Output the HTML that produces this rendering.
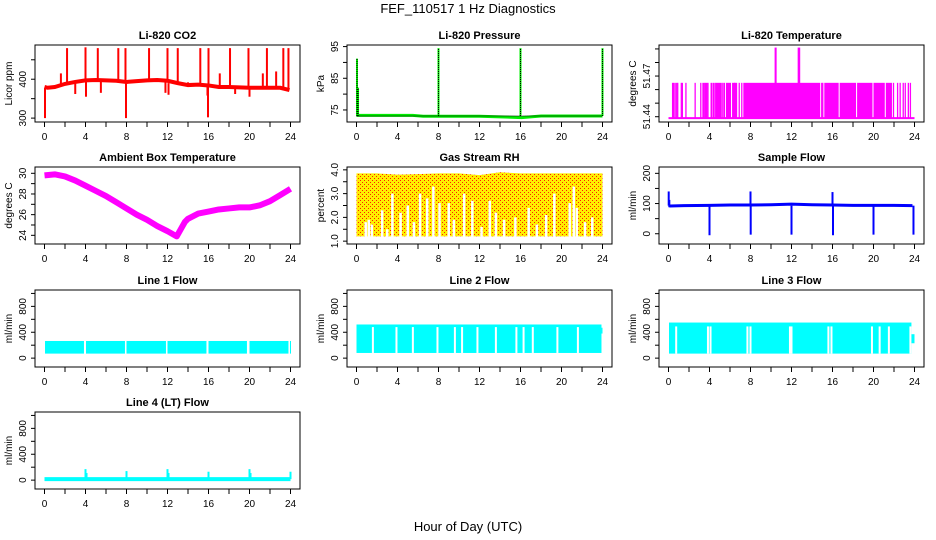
<!DOCTYPE html>
<html><head><meta charset="utf-8">
<style>
html,body{margin:0;padding:0;background:#fff;}
svg{display:block;font-family:"Liberation Sans",sans-serif;}
</style></head>
<body>
<svg id="chart" width="936" height="540" viewBox="0 0 936 540" xmlns="http://www.w3.org/2000/svg">
<defs>
<pattern id="rhmesh" width="4" height="4" patternUnits="userSpaceOnUse">
<rect width="4" height="4" fill="#ffee00"/>
<rect x="0" y="0" width="1" height="1" fill="#ff2000"/>
<rect x="2" y="2" width="1" height="1" fill="#ff2000"/>
</pattern>
</defs>
<text x="468" y="13" font-size="13" text-anchor="middle">FEF_110517  1 Hz Diagnostics</text>
<text x="468" y="531" font-size="13" text-anchor="middle">Hour of Day (UTC)</text>
</svg>
<script>
// ---- data ----
const xTicks=[0,2,4,6,8,10,12,14,16,18,20,22,24];
const xTickLabels=["0","","4","","8","","12","","16","","20","","24"];

const co2Hours=[0,0.3,1,2,3,4,5,6,7,8,9,10,11,12,13,14,15,16,17,18,19,20,21,22,23,23.9];
const co2Base=[380,378,380,388,393,397,398,397,396,393,395,397,398,396,390,385,386,384,380,380,379,378,378,378,378,372];
const co2SpikeHours=[0.05,1.6,2.2,3.0,4.0,4.05,5.2,5.5,7.2,7.9,7.95,10.2,11.8,12.0,12.1,13.0,14.0,15.2,15.9,15.95,16.0,17.1,18.1,18.6,19.9,20.0,21.3,21.7,22.6,23.3,23.8];
const co2SpikeVals=[300,415,480,362,482,355,480,365,480,480,300,480,365,480,360,480,392,480,358,302,480,415,480,362,480,355,415,480,420,480,480];

const presBaseHours=[0,5.5,6.5,12,16.1,18,24];
const presBaseVals=[73.3,73.3,73.0,73.0,72.6,73.1,73.1];
const presSpikeHours=[0.05,0.15,8.0,16.0,24.0];
const presSpikeVals=[91.2,82,94.5,94.5,94.5];

const tempLow=51.439, tempHigh=51.465, tempPeak=51.491;
const tempLines=[0.4,0.5,0.65,0.8,0.9,1.25,1.35,1.7,2.6,3.15,3.55,3.85,4.4,4.55,5.3,5.45,6.45,6.9,7.15,14.95,15.05,21.95,22.35,22.6,22.9,23.1,23.4,23.6];
const tempBlockStart=[3.3,3.6,4.1,4.6,5.6,6.2,7.3,15.2,16.7,18.4,20.0,21.2];
const tempBlockEnd=[3.5,3.8,4.3,5.2,6.1,6.7,14.8,16.6,18.3,19.9,21.1,21.8];
const tempPeakStart=[10.35,12.6];
const tempPeakEnd=[10.55,12.85];

const ambHours=[0,1,2,3,4,5,6,7,8,9,10,11,12,12.9,13.3,13.7,14,15,16,17,18,19,20,21,22,23,24];
const ambVals=[29.8,29.9,29.7,29.3,28.8,28.3,27.8,27.2,26.6,26.0,25.5,24.9,24.4,23.9,24.6,25.3,25.6,26.1,26.3,26.5,26.6,26.7,26.7,26.9,27.3,27.9,28.5];

const rhTopHours=[0,2,4,6,8,10,12,14,16,18,20,22,24];
const rhTopVals=[3.85,3.85,3.8,3.82,3.85,3.85,3.78,3.9,3.85,3.85,3.85,3.85,3.85];
const rhBottom=1.2;
const rhGapHours=[0.9,1.2,1.5,2.5,3.0,3.5,4.3,5.0,5.6,6.2,6.9,7.5,8.1,9.0,9.5,10.5,11.3,12.2,13.0,13.6,14.4,15.5,16.8,17.6,18.5,19.3,20.8,21.2,21.5,22.3,23.0];
const rhGapTops=[1.8,1.9,1.7,2.3,1.5,3.0,2.2,2.5,1.8,3.0,2.8,3.3,2.6,2.6,1.9,3.0,2.7,1.6,2.7,2.2,1.9,2.0,2.4,1.7,2.1,3.0,2.6,3.3,2.4,1.8,2.0];

const sfHours=[0,0.15,1.5,4,6,8,10,12,14,16,18,20,22,23.8];
const sfVals=[93,92,93,94,95,95,96,98,96,95,94,94,94,93];
const sfEventHours=[0.02,0.08,4.0,8.0,8.02,12.0,16.0,16.05,20.0,23.9];
const sfEventVals=[140,112,-5,140,-3,-3,138,-5,-3,-3];

const l1Low=70, l1High=265;
const l1SegStart=[0.05,4.05,8.0,12.0,16.0,20.0,23.95];
const l1SegEnd=[3.85,7.85,11.85,15.8,19.75,23.8,24.0];
const l2Low=80, l2High=520;
const l2GapHours=[1.6,3.9,5.5,7.9,9.6,10.3,11.8,13.6,15.6,16.3,17.2,19.6,21.6];
const l3Low=70, l3High=550;
const l3GapHours=[0.75,3.85,4.1,7.7,8.0,11.85,12.0,15.6,15.9,19.85,20.6,21.5,23.6];
const l4Base=15;
const l4SpikeHours=[4.0,4.1,8.0,12.0,12.1,16.0,20.0,20.1,24.0];
const l4SpikeVals=[170,110,140,170,110,130,170,110,130];

// ---- layout ----
const NS="http://www.w3.org/2000/svg";
const svg=document.getElementById('chart');
const colLeft=[35,347,659], boxW=265;
const rowTop=[45,167,290,412], boxH=77;
function mk(tag,attrs,parent){const e=document.createElementNS(NS,tag);for(const k in attrs)e.setAttribute(k,attrs[k]);(parent||svg).appendChild(e);return e;}

function panel(col,row,title,ylab,ylim,yticks,ylabels,name){
  const g=mk('g',{});
  
  
  const L=colLeft[col],T=rowTop[row];
  const xs=h=>L+9.5+h*(246/24);
  const ys=v=>T+boxH-(v-ylim[0])/(ylim[1]-ylim[0])*boxH;
  const t=mk('text',{x:L+boxW/2,y:T-6,'font-size':11,'font-weight':'bold','text-anchor':'middle'},g);
  t.textContent=title;
  
  
  const xa=mk('g',{},g);
  
  
  mk('line',{x1:xs(0),x2:xs(24),y1:T+boxH,y2:T+boxH,stroke:'#000'},xa);
  xTicks.forEach((h,i)=>{
    mk('line',{x1:xs(h),x2:xs(h),y1:T+boxH,y2:T+boxH+5,stroke:'#000'},xa);
    if(xTickLabels[i]){const tl=mk('text',{x:xs(h),y:T+boxH+18,'font-size':10,'text-anchor':'middle'},xa);tl.textContent=xTickLabels[i];}
  });
  const ya=mk('g',{},g);
  
  
  mk('line',{x1:L,x2:L,y1:ys(yticks[0]),y2:ys(yticks[yticks.length-1]),stroke:'#000'},ya);
  yticks.forEach((v,i)=>{
    mk('line',{x1:L-4,x2:L,y1:ys(v),y2:ys(v),stroke:'#000'},ya);
    if(ylabels[i]){const yl=mk('text',{x:L-9,y:ys(v),'font-size':10,'text-anchor':'middle',transform:`rotate(-90 ${L-9} ${ys(v)})`},ya);yl.textContent=ylabels[i];}
  });
  const yt=mk('text',{x:L-23,y:T+boxH/2,'font-size':10,'text-anchor':'middle',transform:`rotate(-90 ${L-23} ${T+boxH/2})`},ya);
  yt.textContent=ylab;
  
  
  const plot=mk('g',{},g);
  
  
  const box=()=>{const b=mk('rect',{x:L,y:T,width:boxW,height:boxH,fill:'none',stroke:'#000'},g);};
  return {xs,ys,plot,box};
}
function poly(p,hs,vs,attrs){return mk('polyline',Object.assign({points:hs.map((h,i)=>p.xs(h)+','+p.ys(vs[i])).join(' '),fill:'none'},attrs),p.plot);}
function vline(p,h,v0,v1,color,w){return mk('line',{x1:p.xs(h),x2:p.xs(h),y1:p.ys(v0),y2:p.ys(v1),stroke:color,'stroke-width':w||1.5},p.plot);}
function band(p,h0,h1,v0,v1,color){return mk('rect',{x:p.xs(h0),y:p.ys(v1),width:Math.max(1,p.xs(h1)-p.xs(h0)),height:p.ys(v0)-p.ys(v1),fill:color},p.plot);}

// CO2
let p=panel(0,0,'Li-820 CO2','Licor ppm',[290,488],[300,350,400,450],['300','','400',''],'co2');
poly(p,co2Hours,co2Base,{stroke:'#ff0000','stroke-width':4});
co2SpikeHours.forEach((h,i)=>{let k=co2Hours.findIndex(x=>x>=h);if(k<0)k=co2Hours.length-1;vline(p,h,co2Base[k],co2SpikeVals[i],'#ff0000',2);});
p.box();

// Pressure
p=panel(1,0,'Li-820 Pressure','kPa',[71.2,95.5],[75,80,85,90,95],['75','','85','','95'],'pressure');
poly(p,presBaseHours,presBaseVals,{stroke:'#00ee00','stroke-width':3});
presSpikeHours.forEach((h,i)=>vline(p,h,73.1,presSpikeVals[i],'#00ee00',2));
mk('line',{x1:p.xs(0),x2:p.xs(24),y1:p.ys(73.1),y2:p.ys(73.1),stroke:'#000','stroke-dasharray':'1,1'},p.plot);
presSpikeHours.forEach((h,i)=>mk('line',{x1:p.xs(h),x2:p.xs(h),y1:p.ys(73.1),y2:p.ys(presSpikeVals[i]),stroke:'#000','stroke-dasharray':'1,1'},p.plot));
p.box();

// Li-820 temperature
p=panel(2,0,'Li-820 Temperature','degrees C',[51.4361,51.4929],[51.44,51.45,51.46,51.47,51.48,51.49],['51.44','','','51.47','',''],'li820-temp');
mk('line',{x1:p.xs(0),x2:p.xs(24),y1:p.ys(tempLow),y2:p.ys(tempLow),stroke:'#ff00ff','stroke-width':2},p.plot);
tempLines.forEach(h=>vline(p,h,tempLow,tempHigh,'#ff00ff',1.3));
tempBlockStart.forEach((h,i)=>band(p,h,tempBlockEnd[i],tempLow,tempHigh,'#ff00ff'));
tempPeakStart.forEach((h,i)=>band(p,h,tempPeakEnd[i],tempLow,tempPeak,'#ff00ff'));
p.box();

// Ambient
p=panel(0,1,'Ambient Box Temperature','degrees C',[23.16,30.61],[24,25,26,27,28,29,30],['24','','26','','28','','30'],'ambient-temp');
poly(p,ambHours,ambVals,{stroke:'#ff00ff','stroke-width':6,'stroke-linejoin':'round'});
p.box();

// RH
p=panel(1,1,'Gas Stream RH','percent',[0.88,4.12],[1,1.5,2,2.5,3,3.5,4],['1.0','','2.0','','3.0','','4.0'],'gas-rh');
mk('polygon',{points:rhTopHours.map((h,i)=>p.xs(h)+','+p.ys(rhTopVals[i])).join(' ')+' '+p.xs(24)+','+p.ys(rhBottom)+' '+p.xs(0)+','+p.ys(rhBottom),fill:'url(#rhmesh)'},p.plot);
rhGapHours.forEach((h,i)=>vline(p,h,rhBottom-0.05,rhGapTops[i],'#ffffff',2.5));
p.box();

// Sample flow
p=panel(2,1,'Sample Flow','ml/min',[-34,221],[0,50,100,150,200],['0','','100','','200'],'sample-flow');
poly(p,sfHours,sfVals,{stroke:'#0000ff','stroke-width':3});
sfEventHours.forEach((h,i)=>vline(p,h,93,sfEventVals[i],'#0000ff',2));
p.box();

const fT=[0,200,400,600,800,1000], fL=['0','','400','','800',''], fLim=[-137,1053];
p=panel(0,2,'Line 1 Flow','ml/min',fLim,fT,fL,'line1-flow');
l1SegStart.forEach((h,i)=>band(p,h,l1SegEnd[i],l1Low,l1High,'#00ffff'));
p.box();
p=panel(1,2,'Line 2 Flow','ml/min',fLim,fT,fL,'line2-flow');
band(p,0,23.9,l2Low,l2High,'#00ffff');
band(p,23.9,24,380,470,'#00ffff');
l2GapHours.forEach(h=>vline(p,h,l2Low,l2High-40,'#ffffff',2));
p.box();
p=panel(2,2,'Line 3 Flow','ml/min',fLim,fT,fL,'line3-flow');
band(p,0.05,23.7,l3Low,l3High,'#00ffff');
band(p,23.7,24,230,370,'#00ffff');
l3GapHours.forEach(h=>vline(p,h,l3Low,l3High-60,'#ffffff',2));
p.box();
p=panel(0,3,'Line 4 (LT) Flow','ml/min',fLim,fT,fL,'line4-flow');
mk('line',{x1:p.xs(0),x2:p.xs(24),y1:p.ys(l4Base),y2:p.ys(l4Base),stroke:'#00ffff','stroke-width':4},p.plot);
l4SpikeHours.forEach((h,i)=>vline(p,h,l4Base,l4SpikeVals[i],'#00ffff',2));
p.box();
</script>
</body></html>
